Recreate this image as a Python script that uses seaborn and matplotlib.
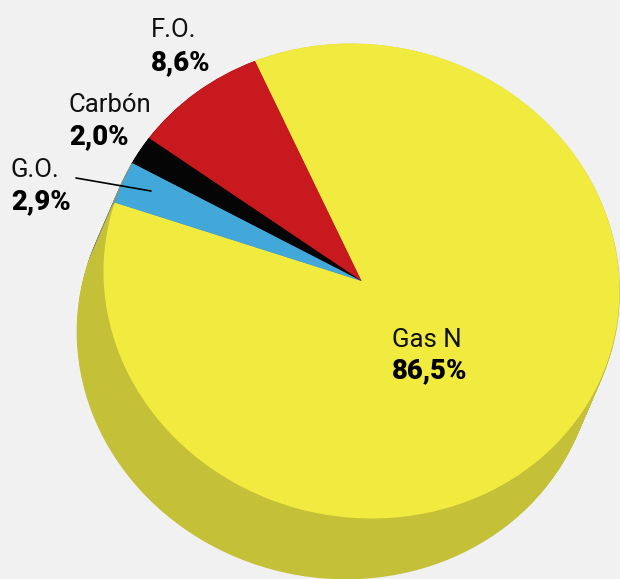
import matplotlib
matplotlib.use("Agg")
import matplotlib.pyplot as plt
from matplotlib.transforms import Affine2D
import seaborn as sns

# Fuel mix shares (%)
fuels = ["Gas N", "F.O.", "Carbón", "G.O."]
shares = [86.5, 8.6, 2.0, 2.9]
share_labels = ["86,5%", "8,6%", "2,0%", "2,9%"]

top_colors = ["#f1eb3f", "#c8191e", "#050505", "#42a8da"]
side_colors = ["#c4c037", "#8e1216", "#000000", "#8a9170"]
bg = "#f1f1f1"

sns.set_theme(style="white")
plt.rcParams["font.family"] = ["Roboto", "DejaVu Sans"]

W, H = 620, 579
fig = plt.figure(figsize=(W / 100, H / 100), dpi=100, facecolor=bg)
ax = fig.add_axes([0, 0, 1, 1])
ax.set_facecolor(bg)

start = 163
# tilted disc: unit pie -> sheared ellipse in pixel space
cx, cy = 361.5, H - 281.0
a11, a21, a22 = 258.0, -9.5, 237.3
dx, dy = -26.0, -60.0   # thickness of the disc


def disc(colors, ox, oy, lw):
    wedges, _ = ax.pie(shares, colors=colors, startangle=start,
                       counterclock=True, radius=1,
                       wedgeprops=dict(linewidth=lw))
    tr = Affine2D.from_values(a11, a21, 0, a22, cx + ox, cy + oy) + ax.transData
    for w, col in zip(wedges, colors):
        w.set_transform(tr)
        w.set_edgecolor(col)
    return wedges


# extruded side: stacked copies shifted down-left
steps = 60
for k in range(steps, 0, -1):
    disc(side_colors, dx * k / steps, dy * k / steps, 1.2)

# top face
top = disc(top_colors, 0, 0, 0)

ax.set_aspect("auto")
ax.set_xlim(0, W)
ax.set_ylim(0, H)
ax.axis("off")


def px(x, y):
    return x / W, 1 - y / H


fs = 18.5
label_pos = {
    "Gas N": (392, 347, 378),
    "F.O.": (151, 37, 70),
    "Carbón": (69, 112, 144),
    "G.O.": (11, 177, 209),
}
for name, pct in zip(fuels, share_labels):
    x, y1, y2 = label_pos[name]
    fig.text(*px(x, y1), name, fontsize=fs, color="#111111",
             ha="left", va="baseline")
    fig.text(*px(x, y2), pct, fontsize=19.8, fontweight="black", color="#000000",
             ha="left", va="baseline")

# leader line for G.O.
x0, y0 = px(76, 178)
x1, y1 = px(151, 191)
fig.add_artist(plt.Line2D([x0, x1], [y0, y1], color="black", linewidth=1.2,
                          transform=fig.transFigure))

fig.savefig("out.png", dpi=100, facecolor=bg)
